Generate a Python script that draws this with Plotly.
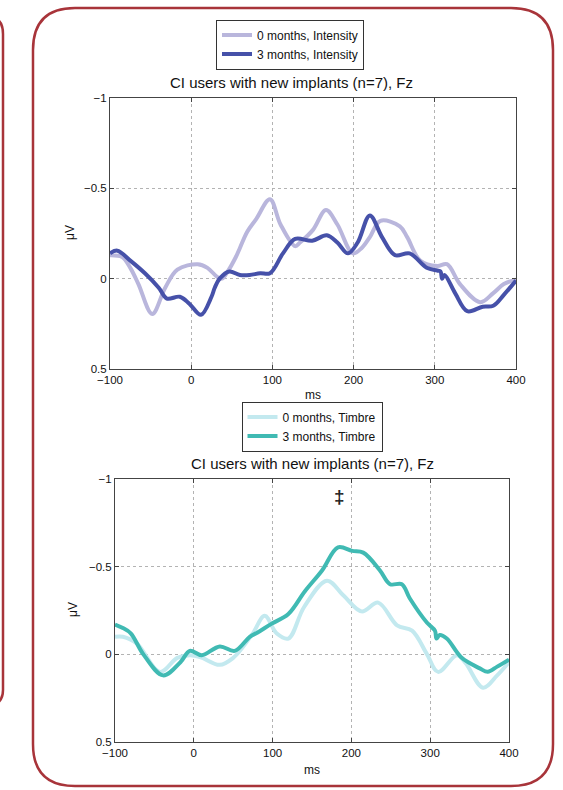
import plotly.graph_objects as go

# ---------------- data ----------------
int3_ms = [-100, -91, -75, -57, -40, -30, -14, -2, 12, 25, 29, 35, 47, 60, 72, 85, 97, 113, 128, 149, 167, 180, 193, 205, 220, 235, 251, 269, 290, 303, 307, 309, 312, 325, 340, 359, 372, 385, 400]
int3_uv = [-0.14, -0.155, -0.1, -0.03, 0.05, 0.11, 0.10, 0.14, 0.20, 0.10, 0.05, 0.0, -0.04, -0.02, -0.02, -0.03, -0.03, -0.14, -0.22, -0.21, -0.24, -0.2, -0.14, -0.2, -0.35, -0.23, -0.13, -0.14, -0.06, -0.045, -0.04, 0.0, -0.02, 0.08, 0.18, 0.155, 0.15, 0.09, 0.01]

int0_ms = [-100, -85, -75, -65, -48, -32, -17, 8, 20, 32, 38, 45, 55, 60, 69, 80, 97, 110, 128, 134, 150, 166, 180, 199, 210, 220, 233, 257, 266, 282, 303, 315, 331, 356, 372, 385, 400]
int0_uv = [-0.13, -0.12, -0.06, 0.03, 0.195, 0.05, -0.05, -0.08, -0.06, -0.01, 0.0, -0.04, -0.12, -0.17, -0.26, -0.33, -0.44, -0.3, -0.18, -0.2, -0.27, -0.38, -0.3, -0.14, -0.17, -0.23, -0.32, -0.29, -0.23, -0.1, -0.07, -0.08, 0.03, 0.13, 0.08, 0.03, 0.005]

tim3_ms = [-100, -90, -80, -64, -39, -17, -5, 10, 33, 52, 71, 81, 99, 120, 141, 163, 183, 201, 215, 236, 249, 264, 274, 296, 306, 308, 312, 321, 340, 363, 373, 385, 400]
tim3_uv = [-0.17, -0.15, -0.12, 0.0, 0.12, 0.045, -0.02, 0.005, -0.045, -0.02, -0.1, -0.125, -0.175, -0.23, -0.36, -0.48, -0.61, -0.59, -0.58, -0.48, -0.40, -0.40, -0.32, -0.18, -0.135, -0.09, -0.11, -0.09, 0.02, 0.08, 0.1, 0.07, 0.03]

tim0_ms = [-100, -90, -72, -43, -21, -5, 8, 33, 50, 62, 75, 90, 105, 120, 140, 169, 190, 213, 234, 258, 277, 296, 310, 334, 345, 367, 385, 400]
tim0_uv = [-0.1, -0.1, -0.06, 0.1, 0.02, 0.005, 0.015, 0.06, 0.02, -0.04, -0.12, -0.22, -0.12, -0.09, -0.27, -0.42, -0.335, -0.245, -0.295, -0.165, -0.135, 0.0, 0.1, 0.005, 0.05, 0.19, 0.12, 0.045]

x_ticks = [-100, 0, 100, 200, 300, 400]
x_ticktext = ["\u2212100", "0", "100", "200", "300", "400"]
y_ticks = [-1, -0.5, 0, 0.5]
y_ticktext = ["\u22121", "\u22120.5", "0", "0.5"]

title_text = "CI users with new implants (n=7), Fz"

# ---------------- layout helpers ----------------
W, H = 563, 790
def px(x):
    return x / W
def py(y):
    return 1 - y / H

FONT = "Liberation Sans, Arial, sans-serif"
fig = go.Figure()

fig.add_trace(go.Scatter(x=int0_ms, y=int0_uv, mode="lines", name="0 months, Intensity",
                         line=dict(color="#b9b6dc", width=4, shape="spline"), xaxis="x", yaxis="y", legend="legend"))
fig.add_trace(go.Scatter(x=int3_ms, y=int3_uv, mode="lines", name="3 months, Intensity",
                         line=dict(color="#4651a9", width=4, shape="spline"), xaxis="x", yaxis="y", legend="legend"))
fig.add_trace(go.Scatter(x=tim0_ms, y=tim0_uv, mode="lines", name="0 months, Timbre",
                         line=dict(color="#c3e9ef", width=4, shape="spline"), xaxis="x2", yaxis="y2", legend="legend2"))
fig.add_trace(go.Scatter(x=tim3_ms, y=tim3_uv, mode="lines", name="3 months, Timbre",
                         line=dict(color="#40bab3", width=4, shape="spline"), xaxis="x2", yaxis="y2", legend="legend2"))

axis_common = dict(showline=True, mirror="ticks", linecolor="#444444", linewidth=1,
                   ticks="inside", ticklen=4, tickcolor="#444444",
                   showgrid=True, gridcolor="#b3b3b3", gridwidth=1, griddash="dot",
                   zeroline=False, automargin=False,
                   tickfont=dict(family=FONT, size=11.5, color="#111111"))

legend_common = dict(xanchor="center", yanchor="middle", bgcolor="white",
                     bordercolor="#333333", borderwidth=1, font=dict(family=FONT, size=12),
                     tracegroupgap=0, itemwidth=30)

fig.update_layout(
    width=W, height=H, margin=dict(l=0, r=0, t=0, b=0, autoexpand=False),
    paper_bgcolor="white", plot_bgcolor="white",
    font=dict(family=FONT, color="#111111"),
    xaxis=dict(domain=[px(110), px(516)], range=[-100, 400], tickvals=x_ticks, ticktext=x_ticktext,
               anchor="y", **axis_common),
    yaxis=dict(domain=[py(369), py(98)], range=[0.5, -1], tickvals=y_ticks, ticktext=y_ticktext,
               anchor="x", **axis_common),
    xaxis2=dict(domain=[px(115), px(509)], range=[-100, 400], tickvals=x_ticks, ticktext=x_ticktext,
                anchor="y2", **axis_common),
    yaxis2=dict(domain=[py(742), py(479)], range=[0.5, -1], tickvals=y_ticks, ticktext=y_ticktext,
                anchor="x2", **axis_common),
    legend=dict(x=px(290), y=py(44.5), **legend_common),
    legend2=dict(x=px(312), y=py(426.5), **legend_common),
    showlegend=True,
)

# titles and axis labels
ann = []
ann.append(dict(text=title_text, x=px(291), y=py(82), xref="paper", yref="paper", showarrow=False,
                font=dict(family=FONT, size=15, color="#111111"), xanchor="center", yanchor="middle"))
ann.append(dict(text=title_text, x=px(312), y=py(463), xref="paper", yref="paper", showarrow=False,
                font=dict(family=FONT, size=15, color="#111111"), xanchor="center", yanchor="middle"))
ann.append(dict(text="ms", x=px(313), y=py(395), xref="paper", yref="paper", showarrow=False,
                font=dict(family=FONT, size=12), xanchor="center", yanchor="middle"))
ann.append(dict(text="ms", x=px(312), y=py(770), xref="paper", yref="paper", showarrow=False,
                font=dict(family=FONT, size=12), xanchor="center", yanchor="middle"))
ann.append(dict(text="\u03bcV", x=px(70), y=py(233), xref="paper", yref="paper", showarrow=False,
                textangle=-90, font=dict(family=FONT, size=12), xanchor="center", yanchor="middle"))
ann.append(dict(text="\u03bcV", x=px(73), y=py(610), xref="paper", yref="paper", showarrow=False,
                textangle=-90, font=dict(family=FONT, size=12), xanchor="center", yanchor="middle"))
ann.append(dict(text="<b>\u2021</b>", x=185, y=-0.9, xref="x2", yref="y2", showarrow=False,
                font=dict(family=FONT, size=19, color="#222222"), xanchor="center", yanchor="middle"))
fig.update_layout(annotations=ann)

# decorative rounded borders
def rr_path(x0, y0, x1, y1, r):
    pts = [
        ("M", [(x0 + r, y0)]), ("L", [(x1 - r, y0)]), ("Q", [(x1, y0), (x1, y0 + r)]),
        ("L", [(x1, y1 - r)]), ("Q", [(x1, y1), (x1 - r, y1)]), ("L", [(x0 + r, y1)]),
        ("Q", [(x0, y1), (x0, y1 - r)]), ("L", [(x0, y0 + r)]), ("Q", [(x0, y0), (x0 + r, y0)]),
    ]
    s = ""
    for cmd, ps in pts:
        s += cmd + " " + " ".join(f"{px(a):.5f},{py(b):.5f}" for a, b in ps) + " "
    return s + "Z"

border_col = "#a8343a"
fig.add_shape(type="path", path=rr_path(33, 8, 553, 786, 42), xref="paper", yref="paper",
              line=dict(color=border_col, width=2.5), fillcolor="rgba(0,0,0,0)", layer="below")
left_path = (f"M {px(-12):.5f},{py(17):.5f} Q {px(3):.5f},{py(17):.5f} {px(3):.5f},{py(34):.5f} "
             f"L {px(3):.5f},{py(690):.5f} Q {px(3):.5f},{py(705):.5f} {px(-12):.5f},{py(705):.5f}")
fig.add_shape(type="path", path=left_path, xref="paper", yref="paper",
              line=dict(color=border_col, width=2.5), layer="below")

fig.write_html("out.html")
